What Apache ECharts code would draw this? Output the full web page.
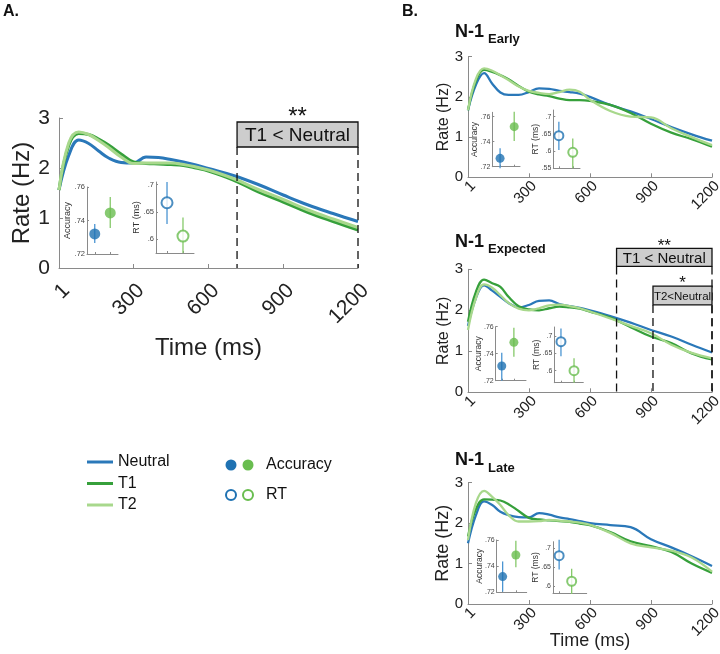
<!DOCTYPE html>
<html>
<head>
<meta charset="utf-8">
<script src="https://cdn.jsdelivr.net/npm/echarts@6.0.0/dist/echarts.min.js"></script>
<style>
  html, body { margin: 0; padding: 0; background: #fff; }
  #chart { width: 720px; height: 654px; }
</style>
</head>
<body>
<div id="chart"></div>
<script>
// time grid (ms) shared by every rate curve
const times = [1, 40, 80, 120, 160, 200, 250, 300, 350, 400, 450, 500, 550, 600, 700, 800, 900, 1000, 1100, 1200];
const xTicks = [1, 300, 600, 900, 1200];

// A. all trials
const neutralA = [1.56, 2.25, 2.56, 2.49, 2.34, 2.2, 2.11, 2.1, 2.22, 2.21, 2.17, 2.12, 2.06, 1.99, 1.85, 1.67, 1.46, 1.26, 1.09, 0.93];
const t1A = [1.56, 2.45, 2.69, 2.67, 2.58, 2.46, 2.28, 2.12, 2.09, 2.08, 2.07, 2.05, 2.0, 1.94, 1.76, 1.52, 1.32, 1.11, 0.93, 0.76];
const t2A = [1.56, 2.5, 2.72, 2.67, 2.55, 2.41, 2.22, 2.09, 2.1, 2.1, 2.1, 2.07, 2.02, 1.96, 1.79, 1.57, 1.37, 1.16, 0.98, 0.81];
// B. N-1 early
const neutralE = [1.67, 2.3, 2.59, 2.33, 2.11, 2.05, 2.05, 2.12, 2.21, 2.2, 2.15, 2.12, 2.08, 2.0, 1.8, 1.64, 1.45, 1.25, 1.07, 0.91];
const t1E = [1.67, 2.4, 2.67, 2.62, 2.54, 2.44, 2.27, 2.13, 2.06, 2.02, 1.96, 1.92, 1.92, 1.9, 1.8, 1.6, 1.33, 1.11, 0.95, 0.76];
const t2E = [1.67, 2.45, 2.71, 2.65, 2.54, 2.42, 2.26, 2.15, 2.1, 2.07, 2.12, 2.18, 2.13, 1.93, 1.65, 1.51, 1.49, 1.22, 1.0, 0.8];
// B. N-1 expected
const neutralX = [1.62, 2.3, 2.61, 2.48, 2.33, 2.18, 2.07, 2.13, 2.23, 2.24, 2.15, 2.1, 2.06, 2.0, 1.86, 1.7, 1.52, 1.36, 1.16, 0.97];
const t1X = [1.72, 2.45, 2.75, 2.66, 2.57, 2.33, 2.1, 2.02, 2.0, 2.05, 2.09, 2.07, 2.04, 1.97, 1.82, 1.59, 1.36, 1.2, 0.95, 0.8];
const t2X = [1.52, 2.3, 2.63, 2.55, 2.37, 2.18, 2.04, 2.0, 2.05, 2.12, 2.14, 2.1, 2.05, 1.97, 1.8, 1.62, 1.44, 1.16, 0.96, 0.83];
// B. N-1 late
const neutralL = [1.5, 2.2, 2.54, 2.45, 2.28, 2.2, 2.15, 2.14, 2.25, 2.21, 2.14, 2.1, 2.05, 2.0, 1.95, 1.9, 1.6, 1.4, 1.18, 0.94];
const t1L = [1.67, 2.35, 2.59, 2.58, 2.56, 2.47, 2.3, 2.13, 2.09, 2.07, 2.05, 2.03, 1.99, 1.95, 1.78, 1.55, 1.43, 1.29, 1.0, 0.77];
const t2L = [1.58, 2.5, 2.8, 2.65, 2.45, 2.2, 2.04, 2.04, 2.05, 2.08, 2.06, 2.04, 2.01, 1.96, 1.76, 1.5, 1.4, 1.32, 1.15, 0.8];

// insets: [mean, low, high] for neutral, then cued
const accA = [[0.732, 0.7266, 0.7379], [0.7445, 0.7355, 0.754]];
const rtA = [[0.667, 0.628, 0.705], [0.606, 0.575, 0.64]];
const accE = [[0.7267, 0.7187, 0.7347], [0.752, 0.7406, 0.764]];
const rtE = [[0.6448, 0.603, 0.6855], [0.5965, 0.55, 0.637]];
const accX = [[0.7309, 0.72, 0.7407], [0.7484, 0.7378, 0.7593]];
const rtX = [[0.6836, 0.642, 0.722], [0.6, 0.565, 0.636]];
const accL = [[0.732, 0.7205, 0.7436], [0.7485, 0.7392, 0.7595]];
const rtL = [[0.68, 0.643, 0.722], [0.612, 0.578, 0.645]];
const accTicks = [0.72, 0.74, 0.76];
const rtTicks = [0.6, 0.65, 0.7];
const rtTicksE = [0.55, 0.6, 0.65, 0.7];

// significance windows: [from, to, boxLow, boxHigh, text, stars]
const sigA = [[715, 1200, 2.42, 2.92, 'T1 < Neutral', '**']];
const sigX = [[731, 1200, 3.07, 3.51, 'T1 < Neutral', '**'], [910, 1200, 2.13, 2.59, 'T2<Neutral', '*']];

const FONT = '"Liberation Sans", Arial, sans-serif';
const BLUE = '#2a78b9', DKGREEN = '#36a03b', LTGREEN = '#a8d88c';
const DOTS = ['#1f72b2', '#69bd4f'];
const ERRS = ['#4b95d2', '#86c96a'];
const AXIS = '#8a8a8a', TXT = '#222';

const grids = [], xAxes = [], yAxes = [], series = [];
const fmt = v => String(+v.toFixed(2)).replace(/^0/, '');

function addPanel(P) {
  const g = grids.length;
  grids.push(Object.assign({ outerBoundsMode: 'none', containLabel: false }, P.main));
  xAxes.push({
    gridIndex: g, type: 'value', min: 1, max: 1200,
    name: P.xName || '', nameLocation: 'middle', nameGap: P.xNameGap, nameMoveOverlap: false,
    nameTextStyle: { fontSize: P.nameFont, color: TXT, fontFamily: FONT },
    axisLine: { lineStyle: { color: AXIS, width: 1 } },
    axisTick: { inside: true, length: 4, customValues: xTicks, lineStyle: { color: AXIS } },
    axisLabel: { customValues: xTicks, formatter: v => String(v), rotate: 45, align: 'right', verticalAlign: 'top',
      fontSize: P.tickFont, color: TXT, margin: P.xMargin, fontFamily: FONT },
    splitLine: { show: false }
  });
  yAxes.push({
    gridIndex: g, type: 'value', min: 0, max: 3, interval: 1,
    name: 'Rate (Hz)', nameLocation: 'middle', nameGap: P.yNameGap, nameMoveOverlap: false,
    nameTextStyle: { fontSize: P.nameFont, color: TXT, fontFamily: FONT },
    axisLine: { show: true, lineStyle: { color: AXIS, width: 1 } },
    axisTick: { show: true, inside: true, length: 4, lineStyle: { color: AXIS } },
    axisLabel: { fontSize: P.tickFont, color: TXT, margin: P.yMargin, fontFamily: FONT },
    splitLine: { show: false }
  });
  [['Neutral', P.neutral, BLUE], ['T1', P.t1, DKGREEN], ['T2', P.t2, LTGREEN]].forEach(([name, vals, col]) => {
    series.push({
      type: 'line', name, xAxisIndex: g, yAxisIndex: g, smooth: 0.4, symbol: 'none',
      lineStyle: { color: col, width: P.lineWidth }, itemStyle: { color: col },
      data: times.map((t, i) => [t, vals[i]]), z: 2
    });
  });
  if (P.sig) {
    const sig = P.sig;
    series.push({
      type: 'custom', xAxisIndex: g, yAxisIndex: g, z: 5, silent: true,
      encode: { x: [0, 1], y: [2, 3] },
      data: sig.map(s => s.slice(0, 4)),
      renderItem(params, api) {
        const s = sig[params.dataIndex];
        const tl = api.coord([s[0], s[3]]);
        const br = api.coord([s[1], s[2]]);
        const b0 = api.coord([s[0], 0]);
        const b1 = api.coord([s[1], 0]);
        const fs = s[5] === '*' ? P.boxFontSmall : P.boxFont;
        const dash = { stroke: '#111', lineWidth: 1.3, lineDash: [8, 5] };
        return {
          type: 'group', children: [
            { type: 'line', shape: { x1: tl[0], y1: br[1], x2: b0[0], y2: b0[1] }, style: dash },
            { type: 'line', shape: { x1: br[0], y1: br[1], x2: b1[0], y2: b1[1] }, style: dash },
            { type: 'rect', shape: { x: tl[0], y: tl[1], width: br[0] - tl[0], height: br[1] - tl[1] },
              style: { fill: '#cdcdcd', stroke: '#111', lineWidth: 1.3 } },
            { type: 'text', style: { text: s[4], x: (tl[0] + br[0]) / 2, y: (tl[1] + br[1]) / 2 + 1,
              align: 'center', verticalAlign: 'middle', fontSize: fs, fontFamily: FONT, fill: '#111' } },
            { type: 'text', style: { text: s[5], x: (tl[0] + br[0]) / 2, y: tl[1] + P.starDrop,
              align: 'center', verticalAlign: 'bottom', fontSize: P.starFont, fontFamily: FONT, fill: '#111' } }
          ]
        };
      }
    });
  }
  addInset(P.acc, P.accVals, accTicks, 'Accuracy', true, P);
  addInset(P.rt, P.rtVals, P.rtTicks || rtTicks, 'RT (ms)', false, P);
}

function addInset(R, vals, ticks, label, filled, P) {
  const g = grids.length;
  grids.push({ left: R.left, top: R.top, width: R.width, height: R.height, outerBoundsMode: 'none', containLabel: false });
  xAxes.push({
    gridIndex: g, type: 'value', min: R.xMin, max: R.xMax,
    axisLine: { lineStyle: { color: AXIS, width: 1 } },
    axisTick: { inside: true, length: 2, customValues: [1, 2], lineStyle: { color: AXIS } },
    axisLabel: { show: false }, splitLine: { show: false }
  });
  yAxes.push({
    gridIndex: g, type: 'value', min: R.yMin, max: R.yMax,
    name: label, nameLocation: 'middle', nameGap: P.insetNameGap, nameMoveOverlap: false,
    nameTextStyle: { fontSize: P.insetNameFont, color: '#333', fontFamily: FONT },
    axisLine: { show: true, lineStyle: { color: AXIS, width: 1 } },
    axisTick: { show: true, inside: true, length: 2, customValues: ticks, lineStyle: { color: AXIS } },
    axisLabel: { customValues: ticks, formatter: fmt, fontSize: P.insetTickFont, color: '#444', margin: 2, fontFamily: FONT },
    splitLine: { show: false }
  });
  series.push({
    type: 'custom', xAxisIndex: g, yAxisIndex: g, z: 3, silent: true,
    encode: { x: 0, y: [1, 2] },
    data: vals.map((v, i) => ({ value: [i + 1, v[1], v[2]], itemStyle: { color: ERRS[i] } })),
    renderItem(params, api) {
      const p1 = api.coord([api.value(0), api.value(1)]);
      const p2 = api.coord([api.value(0), api.value(2)]);
      return { type: 'line', shape: { x1: p1[0], y1: p1[1], x2: p2[0], y2: p2[1] },
        style: { stroke: api.visual('color'), lineWidth: 1.3 } };
    }
  });
  series.push({
    type: 'scatter', xAxisIndex: g, yAxisIndex: g, z: 4, silent: true,
    symbolSize: P.dotSize,
    data: vals.map((v, i) => ({
      value: [i + 1, v[0]],
      itemStyle: filled ? { color: DOTS[i] } : { color: '#fff', borderColor: DOTS[i], borderWidth: 2 }
    }))
  });
}

const bigStyle = { tickFont: 21, nameFont: 24, yNameGap: 25, xNameGap: 68, xMargin: 12, yMargin: 9, lineWidth: 3,
  dotSize: 11, insetTickFont: 7.5, insetNameFont: 9, insetNameGap: 15, boxFont: 19, boxFontSmall: 13, starFont: 24, starDrop: 7 };
const smallStyle = { tickFont: 15, nameFont: 16, yNameGap: 16, xNameGap: 28, xMargin: 1, yMargin: 5, lineWidth: 2.3,
  dotSize: 9, insetTickFont: 7, insetNameFont: 8.5, insetNameGap: 13, boxFont: 15, boxFontSmall: 11.5, starFont: 17, starDrop: 6 };

addPanel(Object.assign({}, bigStyle, {
  main: { left: 59, top: 118, width: 299, height: 150 }, xName: 'Time (ms)',
  neutral: neutralA, t1: t1A, t2: t2A, sig: sigA, accVals: accA, rtVals: rtA,
  acc: { left: 87, top: 187, width: 31, height: 67, xMin: 0.5, xMax: 2.5, yMin: 0.72, yMax: 0.76 },
  rt: { left: 156, top: 182, width: 38, height: 71, xMin: 0.31, xMax: 2.69, yMin: 0.575, yMax: 0.705 }
}));
addPanel(Object.assign({}, smallStyle, {
  main: { left: 468, top: 56.7, width: 244, height: 120.6 },
  neutral: neutralE, t1: t1E, t2: t2E, accVals: accE, rtVals: rtE, rtTicks: rtTicksE,
  acc: { left: 492.3, top: 112.3, width: 27.7, height: 54.4, xMin: 0.45, xMax: 2.41, yMin: 0.72, yMax: 0.7635 },
  rt: { left: 553.3, top: 110, width: 26.7, height: 58.3, xMin: 0.6, xMax: 2.52, yMin: 0.55, yMax: 0.7195 }
}));
addPanel(Object.assign({}, smallStyle, {
  main: { left: 468, top: 269.3, width: 244, height: 123 },
  neutral: neutralX, t1: t1X, t2: t2X, sig: sigX, accVals: accX, rtVals: rtX,
  acc: { left: 495.7, top: 326.7, width: 30.3, height: 54, xMin: 0.5, xMax: 3.0, yMin: 0.72, yMax: 0.76 },
  rt: { left: 554.3, top: 327, width: 29, height: 55.7, xMin: 0.49, xMax: 2.71, yMin: 0.5654, yMax: 0.726 }
}));
addPanel(Object.assign({}, smallStyle, {
  main: { left: 468, top: 482.7, width: 244, height: 121.3 }, xName: 'Time (ms)', nameFont: 18,
  neutral: neutralL, t1: t1L, t2: t2L, accVals: accL, rtVals: rtL,
  acc: { left: 496.7, top: 540, width: 30, height: 52.3, xMin: 0.55, xMax: 2.82, yMin: 0.72, yMax: 0.76 },
  rt: { left: 553, top: 541.7, width: 33.7, height: 51.6, xMin: 0.51, xMax: 3.2, yMin: 0.58, yMax: 0.717 }
}));

function label(text, x, y, size, bold) {
  return { type: 'text', x, y, style: { text, fontSize: size, fontWeight: bold ? 'bold' : 'normal',
    fontFamily: FONT, fill: '#111', verticalAlign: 'middle' } };
}

const graphic = [
  label('A.', 3, 12, 16, true),
  label('B.', 402, 12, 16, true),
  label('N-1', 455, 32, 18, true), label('Early', 488, 39, 13, true),
  label('N-1', 455, 242, 18, true), label('Expected', 488, 249, 13, true),
  label('N-1', 455, 460, 18, true), label('Late', 488, 468, 13, true),
  { type: 'circle', shape: { cx: 231, cy: 465, r: 5.5 }, style: { fill: DOTS[0] } },
  { type: 'circle', shape: { cx: 248, cy: 465, r: 5.5 }, style: { fill: DOTS[1] } },
  label('Accuracy', 266, 465, 16, false),
  { type: 'circle', shape: { cx: 231, cy: 495, r: 5 }, style: { fill: '#fff', stroke: DOTS[0], lineWidth: 2 } },
  { type: 'circle', shape: { cx: 248, cy: 495, r: 5 }, style: { fill: '#fff', stroke: DOTS[1], lineWidth: 2 } },
  label('RT', 266, 495, 16, false)
];

const chart = echarts.init(document.getElementById('chart'));
chart.setOption({
  animation: false,
  textStyle: { fontFamily: FONT },
  legend: {
    data: ['Neutral', 'T1', 'T2'].map(name => ({ name, icon: 'rect' })),
    orient: 'vertical', left: 87, top: 454, padding: 0,
    itemWidth: 26, itemHeight: 3, itemGap: 5.5, selectedMode: false,
    textStyle: { fontSize: 16, color: '#111', lineHeight: 14, fontFamily: FONT }
  },
  grid: grids, xAxis: xAxes, yAxis: yAxes, series, graphic
});
</script>
</body>
</html>
